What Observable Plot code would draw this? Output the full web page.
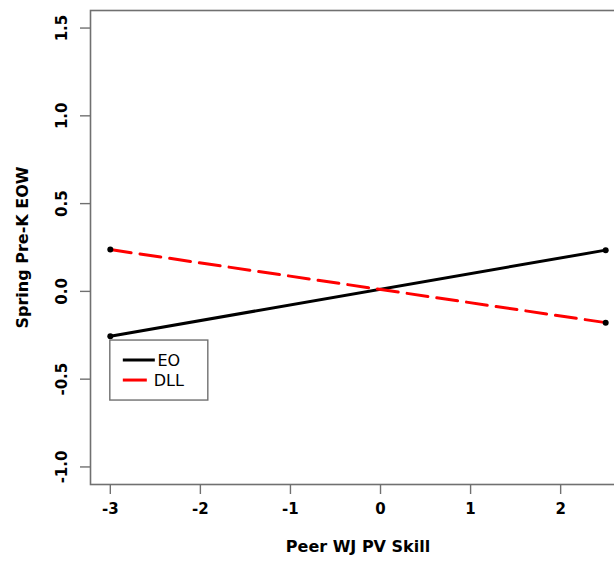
<!DOCTYPE html>
<html>
<head>
<meta charset="utf-8">
<script src="https://cdn.jsdelivr.net/npm/d3@7"></script>
<script src="https://cdn.jsdelivr.net/npm/@observablehq/plot@0.6"></script>
<style>
  html, body { margin: 0; padding: 0; background: white; }
  #chart { width: 614px; height: 566px; overflow: hidden; }
  #chart svg { max-width: none !important; }
</style>
</head>
<body>
<div id="chart"></div>
<script>
// Simple slopes of Spring Pre-K EOW across peer WJ PV skill, by group
const peerSkill = [-3, 2.5];
const eoValues = [-0.255, 0.235];
const dllValues = [0.238, -0.178];
const seriesNames = ["EO", "DLL"];
const xTicks = [-3, -2, -1, 0, 1, 2];
const yTicks = [-1.0, -0.5, 0.0, 0.5, 1.0, 1.5];

const rows = [
  ...peerSkill.map((x, i) => ({x, y: eoValues[i], group: seriesNames[0]})),
  ...peerSkill.map((x, i) => ({x, y: dllValues[i], group: seriesNames[1]}))
];

const fmtY = d => d3.format(".1f")(d).replace("−", "-");
const fmtX = d => String(d);

const axisGray = "#707070";
const font = "DejaVu Sans, Verdana, sans-serif";

const chart = Plot.plot({
  width: 625,
  height: 566,
  marginLeft: 90,
  marginRight: 0,
  marginTop: 10,
  marginBottom: 82,
  x: {domain: [-3.22, 2.72]},
  y: {domain: [-1.1, 1.6]},
  style: {fontFamily: font, background: "white", color: "black", maxWidth: "none"},
  marks: [
    Plot.frame({stroke: axisGray, strokeWidth: 1.6}),
    // tick marks
    Plot.axisX(xTicks, {tickSize: 10, tickFormat: () => "", stroke: axisGray, strokeWidth: 1.4, label: null}),
    Plot.axisY(yTicks, {tickSize: 10, tickFormat: () => "", stroke: axisGray, strokeWidth: 1.4, label: null}),
    // tick labels
    Plot.text(xTicks, {x: d => d, frameAnchor: "bottom", dy: 29, text: fmtX,
      fontWeight: "bold", fontSize: 15, fill: "black"}),
    Plot.text(yTicks, {y: d => d, frameAnchor: "left", dx: -28, rotate: -90, text: fmtY,
      textAnchor: "middle", fontWeight: "bold", fontSize: 15, fill: "black"}),
    // axis titles
    Plot.text(["Peer WJ PV Skill"], {frameAnchor: "bottom", dy: 67,
      fontWeight: "bold", fontSize: 16, fill: "black"}),
    Plot.text(["Spring Pre-K EOW"], {frameAnchor: "left", dx: -68, rotate: -90,
      textAnchor: "middle", fontWeight: "bold", fontSize: 16, fill: "black"}),
    // series
    Plot.line(rows.filter(d => d.group === "EO"), {x: "x", y: "y", stroke: "black", strokeWidth: 3}),
    Plot.line(rows.filter(d => d.group === "DLL"), {x: "x", y: "y", stroke: "red", strokeWidth: 3,
      strokeDasharray: "21,9"}),
    Plot.dot(rows, {x: "x", y: "y", r: 3, fill: "black", stroke: null})
  ]
});

chart.style.maxWidth = "none";
document.getElementById("chart").appendChild(chart);

// Legend box in the lower-left part of the panel
const sx = chart.scale("x"), sy = chart.scale("y");
const svg = d3.select(chart);
const lx = sx.apply(-3), ly = sy.apply(-0.28);
const lg = svg.append("g").attr("font-family", font).attr("font-size", 16);
lg.append("rect").attr("x", lx).attr("y", ly).attr("width", 98).attr("height", 60)
  .attr("fill", "white").attr("stroke", axisGray).attr("stroke-width", 1.4);
const legendStyles = [
  {name: seriesNames[0], color: "black", dash: null},
  {name: seriesNames[1], color: "red", dash: "24,9"}
];
legendStyles.forEach((s, i) => {
  const yy = ly + 20 + i * 20;
  lg.append("line").attr("x1", lx + 13).attr("x2", lx + 45).attr("y1", yy).attr("y2", yy)
    .attr("stroke", s.color).attr("stroke-width", 3).attr("stroke-dasharray", s.dash);
  lg.append("text").attr("x", lx + 59).attr("y", yy).attr("dy", "0.35em").attr("fill", "black").text(s.name);
});
</script>
</body>
</html>
